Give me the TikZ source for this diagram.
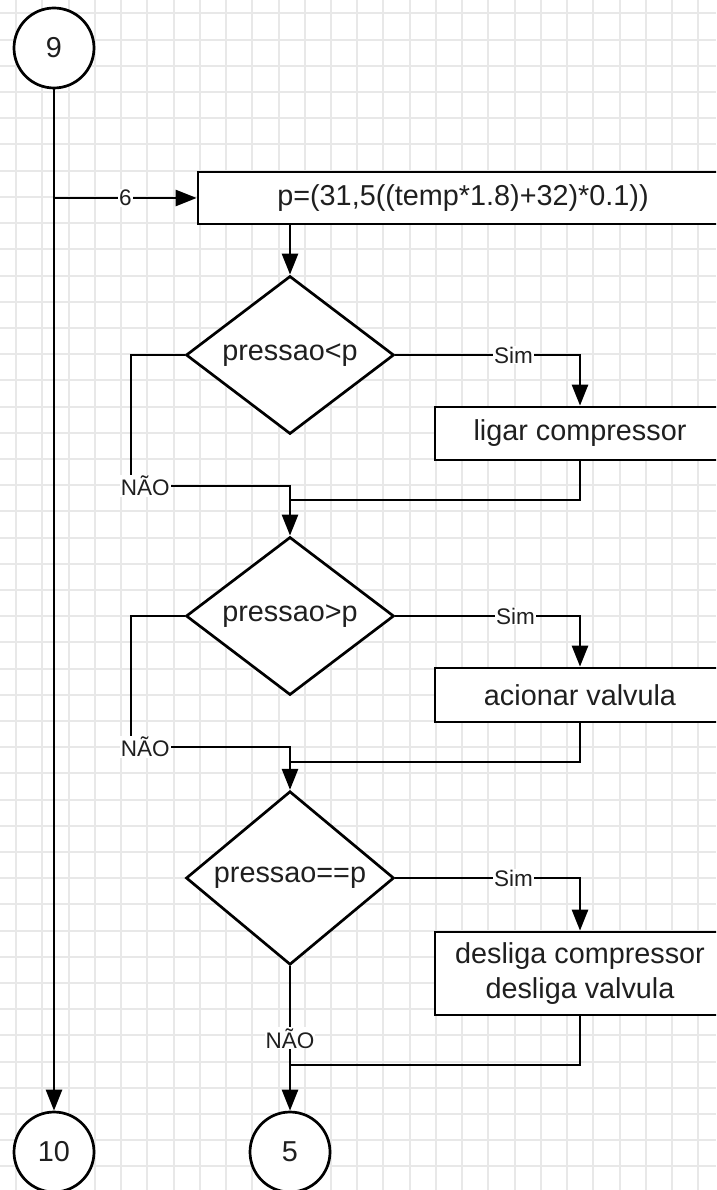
\documentclass[tikz,border=0pt]{standalone}
\usepackage{fontspec}
\setmainfont{Liberation Sans}
\usetikzlibrary{shapes.geometric,arrows.meta}
\begin{document}
\begin{tikzpicture}[x=1pt,y=-1pt,
  line width=2.7pt,
  every node/.style={font=\fontsize{28.8}{35}\selectfont, text=black!88},
  proc/.style={draw, fill=white, rectangle, inner sep=0pt},
  dec/.style={draw, fill=white, diamond, minimum width=208pt, minimum height=157pt, inner sep=0pt},
  conn/.style={draw, fill=white, circle, minimum size=80pt, inner sep=0pt},
  lbl/.style={fill=white, inner sep=1pt, font=\fontsize{22.5}{26}\selectfont},
  arr/.style={-{Triangle[length=21pt,width=16pt]}},
  gridline/.style={line width=2pt, draw=black!9}]
\useasboundingbox (0,0) rectangle (716,1190);
\clip (0,0) rectangle (716,1190);
\fill[white] (0,0) rectangle (716,1190);
% grid
\foreach \k in {0,...,27} {\draw[gridline] ({16.2+26.23*\k},0) -- ({16.2+26.23*\k},1190);}
\foreach \k in {0,...,45} {\draw[gridline] (0,{13.5+26.2*\k}) -- (716,{13.5+26.2*\k});}
% nodes
\node[conn] (c9) at (54,48) {9};
\node[proc, minimum width=530pt, minimum height=52pt] (b0) at (463,198) {p=(31,5((temp*1.8)+32)*0.1))};
\node[dec] (d1) at (290,355) {pressao<p};
\node[proc, minimum width=290pt, minimum height=53pt] (b1) at (580,433.5) {ligar compressor};
\node[dec] (d2) at (290,616) {pressao>p};
\node[proc, minimum width=290pt, minimum height=54pt] (b2) at (580,695) {acionar valvula};
\node[dec] (d3) at (290,878) {pressao==p};
\node[proc, minimum width=290pt, minimum height=83pt, align=center] (b3) at (580,973.5) {desliga compressor\\desliga valvula};
\node[conn] (c10) at (54,1152) {10};
\node[conn] (c5) at (290,1152) {5};
% helper coordinates
\coordinate (l1) at (131,486);
\coordinate (l2) at (131,747);
\coordinate (j1) at (290,500);
\coordinate (j2) at (290,762);
\coordinate (j3) at (290,1065);
% connectors
\draw[arr] (c9) -- (c10);
\draw[arr] (c9 |- b0.west) -- node[lbl,pos=0.5]{6} (b0.west);
\draw[arr] (d1.north |- b0.south) -- (d1.north);
\draw[arr] (d1.east) -- node[lbl,pos=0.64]{Sim} (d1.east -| b1.north) -- (b1.north);
\draw[arr] (d1.west) -| (l1) -- node[lbl,pos=0.09]{NÃO} (l1 -| d2.north) -- (d2.north);
\draw (b1.south) |- (j1);
\draw[arr] (d2.east) -- node[lbl,pos=0.65]{Sim} (d2.east -| b2.north) -- (b2.north);
\draw[arr] (d2.west) -| (l2) -- node[lbl,pos=0.09]{NÃO} (l2 -| d3.north) -- (d3.north);
\draw (b2.south) |- (j2);
\draw[arr] (d3.east) -- node[lbl,pos=0.64]{Sim} (d3.east -| b3.north) -- (b3.north);
\draw[arr] (d3.south) -- node[lbl,pos=0.5]{NÃO} (c5.north);
\draw (b3.south) |- (j3);
\end{tikzpicture}
\end{document}
